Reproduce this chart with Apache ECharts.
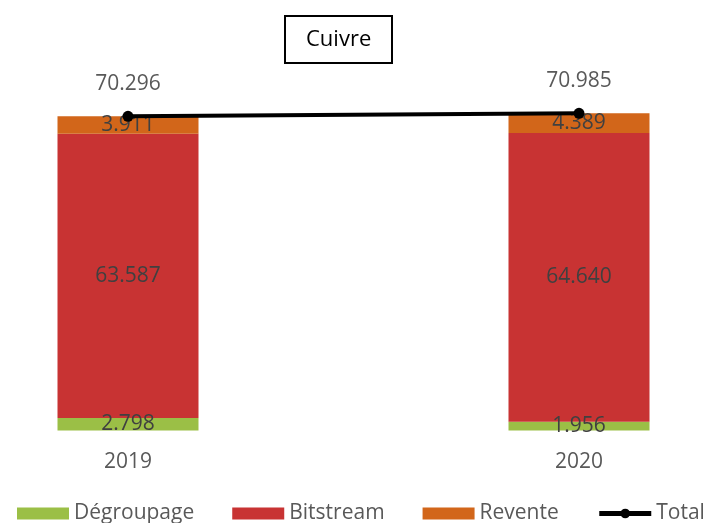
<!DOCTYPE html>
<html>
<head>
<meta charset="utf-8">
<script src="https://cdn.jsdelivr.net/npm/echarts@6/dist/echarts.min.js"></script>
<style>html,body{margin:0;padding:0;background:#fff}#c{width:707px;height:523px}</style>
</head>
<body>
<div id="c"></div>
<script>
const categories = ['2019', '2020'];
const degroupage = [2.798, 1.956];
const bitstream = [63.587, 64.640];
const revente = [3.911, 4.389];
const total = [70.296, 70.985];

const fmt = v => v.toFixed(3);
const FONT = 'Open Sans';

const chart = echarts.init(document.getElementById('c'));
const barLabel = {
  show: true, position: 'inside', color: '#404040', fontSize: 21, fontFamily: FONT,
  formatter: p => fmt(p.value)
};
chart.setOption({
  animation: false,
  title: {
    text: 'Cuivre', left: 285, top: 16,
    borderColor: '#000', borderWidth: 2, padding: [10, 21, 10, 21],
    textStyle: { color: '#000', fontSize: 22, fontWeight: 'normal', fontFamily: FONT, lineHeight: 27 }
  },
  legend: {
    left: 12, top: 498, width: 700, itemWidth: 52, itemHeight: 12, itemGap: 38,
    textStyle: { color: '#595959', fontSize: 21, fontFamily: FONT },
    data: [
      { name: 'Dégroupage', icon: 'rect' },
      { name: 'Bitstream', icon: 'rect' },
      { name: 'Revente', icon: 'rect' },
      { name: 'Total', lineStyle: { width: 5 } }
    ]
  },
  grid: { left: 128, right: 128, top: 73, bottom: 92.5 },
  xAxis: {
    type: 'category', data: categories, boundaryGap: false,
    axisLine: { show: false }, axisTick: { show: false },
    axisLabel: { color: '#595959', fontSize: 21, fontFamily: FONT, margin: 21 }
  },
  yAxis: { type: 'value', min: 0, max: 80, show: false, splitLine: { show: false } },
  series: [
    { name: 'Dégroupage', type: 'bar', stack: 's', data: degroupage, barWidth: 141,
      itemStyle: { color: '#9BBF46' }, label: barLabel },
    { name: 'Bitstream', type: 'bar', stack: 's', data: bitstream, barWidth: 141,
      itemStyle: { color: '#C83333' }, label: barLabel },
    { name: 'Revente', type: 'bar', stack: 's', data: revente, barWidth: 141,
      itemStyle: { color: '#D2661A' }, label: barLabel },
    { name: 'Total', type: 'line', data: total, z: 5,
      symbol: 'circle', symbolSize: 11,
      itemStyle: { color: '#000' }, lineStyle: { color: '#000', width: 4 },
      label: { show: true, position: 'top', distance: 16, color: '#595959', fontSize: 21, fontFamily: FONT,
        formatter: p => fmt(p.value) } }
  ]
});
</script>
</body>
</html>
